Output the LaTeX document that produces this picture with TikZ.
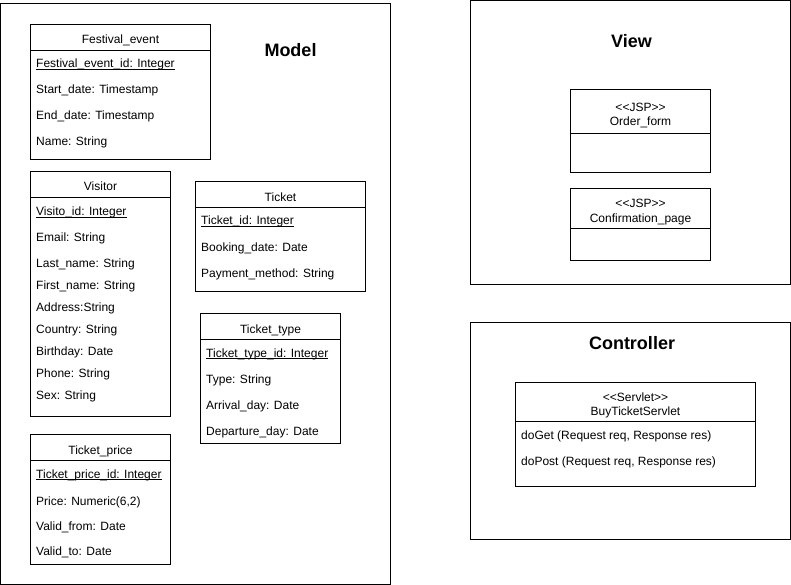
\documentclass[tikz,border=0pt]{standalone}
\usepackage{fontspec}
\setmainfont{Liberation Sans}
\begin{document}
\begin{tikzpicture}[x=1pt,y=-1pt,
  box/.style={draw, line width=1pt, inner sep=0pt, outer sep=0pt, anchor=north west},
  sep/.style={line width=1pt},
  attr/.style={anchor=base west, inner sep=0pt, font=\fontsize{12}{14}\selectfont},
  hdr/.style={anchor=base, inner sep=0pt, font=\fontsize{12}{14}\selectfont},
  ttl/.style={anchor=base, inner sep=0pt, font=\bfseries\fontsize{18}{22}\selectfont},
  ul/.style={line width=0.8pt}]
\useasboundingbox (0,0) rectangle (791,585);

% containers
\node[box, minimum width=390, minimum height=580] (model) at (0.5,4) {};
\node[box, minimum width=320, minimum height=284] (view) at (470.5,0.5) {};
\node[box, minimum width=320, minimum height=217] (ctrl) at (470.5,322.5) {};
\node[ttl] (tmodel) at (290.5,57) {Model};
\node[ttl] (tview) at (631.5,47.3) {View};
\node[ttl] (tctrl) at (632,349.3) {Controller};

% Festival_event
\node[box, minimum width=180, minimum height=135] (fe) at (30.5,24.5) {};
\draw[sep] (30.5,50.5) -- (210.5,50.5);
\node[hdr] (feh) at (120.5,44) {Festival\_event};
\node[attr] (fe1) at (36,67.5) {Festival\_event\_id: Integer};
\draw[ul] ([yshift=-1.5pt]fe1.base west) -- ([yshift=-1.5pt]fe1.base east);
\node[attr] (fe2) at (36,93.5) {Start\_date: Timestamp};
\node[attr] (fe3) at (36,119.5) {End\_date: Timestamp};
\node[attr] (fe4) at (36,145.5) {Name: String};

% Visitor
\node[box, minimum width=140, minimum height=245] (vi) at (30.5,171.5) {};
\draw[sep] (30.5,197.5) -- (170.5,197.5);
\node[hdr] (vih) at (100.5,191) {Visitor};
\node[attr] (vi1) at (36,215.5) {Visito\_id: Integer};
\draw[ul] ([yshift=-1.5pt]vi1.base west) -- ([yshift=-1.5pt]vi1.base east);
\node[attr] (vi2) at (36,241.5) {Email: String};
\node[attr] (vi3) at (36,267.5) {Last\_name: String};
\node[attr] (vi4) at (36,289.5) {First\_name: String};
\node[attr] (vi5) at (36,311.5) {Address:String};
\node[attr] (vi6) at (36,333.5) {Country: String};
\node[attr] (vi7) at (36,355.5) {Birthday: Date};
\node[attr] (vi8) at (36,377.5) {Phone: String};
\node[attr] (vi9) at (36,399.5) {Sex: String};

% Ticket
\node[box, minimum width=170, minimum height=110] (ti) at (195.5,181.5) {};
\draw[sep] (195.5,207.5) -- (365.5,207.5);
\node[hdr] (tih) at (280.5,201) {Ticket};
\node[attr] (ti1) at (201,225) {Ticket\_id: Integer};
\draw[ul] ([yshift=-1.5pt]ti1.base west) -- ([yshift=-1.5pt]ti1.base east);
\node[attr] (ti2) at (201,251.5) {Booking\_date: Date};
\node[attr] (ti3) at (201,277) {Payment\_method: String};

% Ticket_type
\node[box, minimum width=140, minimum height=130] (tt) at (200.5,313.5) {};
\draw[sep] (200.5,339.5) -- (340.5,339.5);
\node[hdr] (tth) at (270.5,333.5) {Ticket\_type};
\node[attr] (tt1) at (206,357) {Ticket\_type\_id: Integer};
\draw[ul] ([yshift=-1.5pt]tt1.base west) -- ([yshift=-1.5pt]tt1.base east);
\node[attr] (tt2) at (206,383) {Type: String};
\node[attr] (tt3) at (206,409) {Arrival\_day: Date};
\node[attr] (tt4) at (206,435) {Departure\_day: Date};

% Ticket_price
\node[box, minimum width=140, minimum height=130] (tp) at (30.5,434.5) {};
\draw[sep] (30.5,460.5) -- (170.5,460.5);
\node[hdr] (tph) at (100.5,454.5) {Ticket\_price};
\node[attr] (tp1) at (36,478) {Ticket\_price\_id: Integer};
\draw[ul] ([yshift=-1.5pt]tp1.base west) -- ([yshift=-1.5pt]tp1.base east);
\node[attr] (tp2) at (36,505) {Price: Numeric(6,2)};
\node[attr] (tp3) at (36,530) {Valid\_from: Date};
\node[attr] (tp4) at (36,555.5) {Valid\_to: Date};

% Order_form
\node[box, minimum width=140, minimum height=83] (of) at (570.5,89.5) {};
\draw[sep] (570.5,133.5) -- (710.5,133.5);
\node[hdr] (of1) at (640.5,111.8) {<\kern0pt<JSP>\kern0pt>};
\node[hdr] (of2) at (640.5,125.2) {Order\_form};

% Confirmation_page
\node[box, minimum width=140, minimum height=72] (cp) at (570.5,188.5) {};
\draw[sep] (570.5,228.5) -- (710.5,228.5);
\node[hdr] (cp1) at (640.5,207.2) {<\kern0pt<JSP>\kern0pt>};
\node[hdr] (cp2) at (640.5,222.2) {Confirmation\_page};

% BuyTicketServlet
\node[box, minimum width=240, minimum height=104] (bs) at (515.5,382.5) {};
\draw[sep] (515.5,421.5) -- (755.5,421.5);
\node[hdr] (bs1) at (635.5,401.8) {<\kern0pt<Servlet>\kern0pt>};
\node[hdr] (bs2) at (635.5,415.5) {BuyTicketServlet};
\node[attr] (bs3) at (521,439.5) {doGet (Request req, Response res)};
\node[attr] (bs4) at (521,465.8) {doPost (Request req, Response res)};
\end{tikzpicture}
\end{document}
